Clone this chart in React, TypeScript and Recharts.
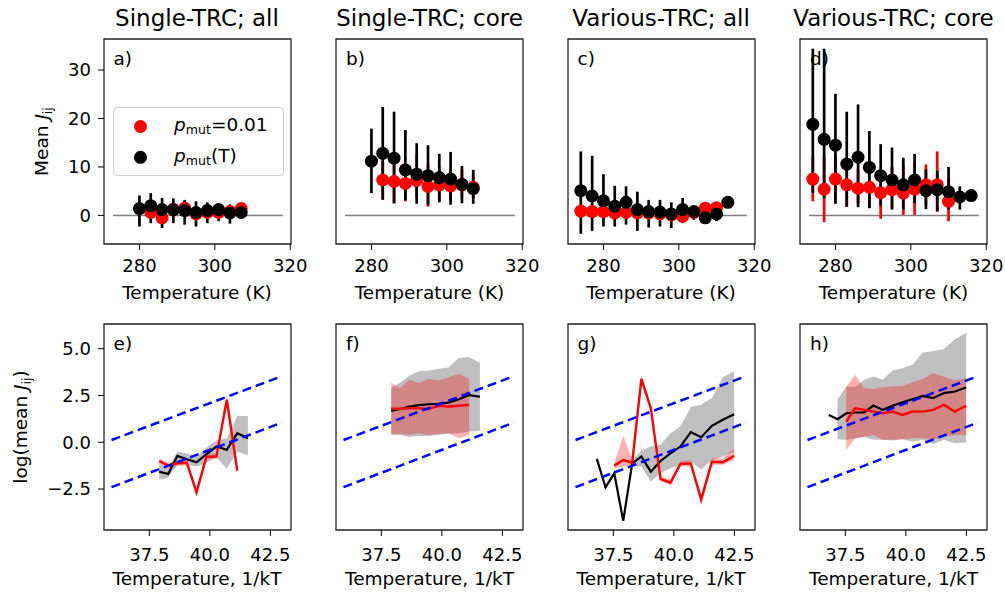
import React from 'react';
import {
  ComposedChart,
  Line,
  Area,
  Scatter,
  ErrorBar,
  XAxis,
  YAxis,
  ReferenceArea
} from 'recharts';

const FONT = 'DejaVu Sans';

// temperatures of the top row (K), 1/kT of the bottom row (ascending)
const TEMPS = [274, 277, 280, 283, 286, 289, 292, 295, 298, 301, 304, 307, 310, 313, 316];
const INV_KT = [36.82, 37.18, 37.54, 37.91, 38.28, 38.66, 39.05, 39.45, 39.86, 40.27, 40.7, 41.13, 41.57, 42.02, 42.49];

const TITLES = ['Single-TRC; all', 'Single-TRC; core', 'Various-TRC; all', 'Various-TRC; core'];
const TOP_LETTERS = ['a)', 'b)', 'c)', 'd)'];
const BOTTOM_LETTERS = ['e)', 'f)', 'g)', 'h)'];

const TOP_X_TICKS = [280, 300, 320];
const TOP_Y_TICKS = [0, 10, 20, 30];
const BOT_X_TICKS = [37.5, 40, 42.5];
const BOT_Y_TICKS = [-2.5, 0, 2.5, 5];

const ZERO_X = [273, 318];
const GUIDE_X = [35.94, 42.97];
const GUIDE_UPPER = [0.12, 3.53];
const GUIDE_LOWER = [-2.4, 1.05];

// ---- top row: mean J_ij with error bars (start = index into TEMPS)
const aRedMean = [0.6, -0.5, 1.2, 1.5, 0.3, 0.6, 0.6, 0.8, 1.4];
const aRedLo = [-0.3, -1.4, 0.3, 0.6, -0.6, -0.3, -0.3, -0.1, 0.5];
const aRedHi = [1.5, 0.4, 2.1, 2.4, 1.2, 1.5, 1.5, 1.7, 2.3];
const aBlackMean = [1.4, 2.0, 1.2, 1.2, 1.0, 0.6, 1.0, 1.2, 0.5, 0.6];
const aBlackLo = [-2.3, -1.6, -2.6, -1.6, -1.9, -2.3, -1.6, -1.2, -1.7, -0.5];
const aBlackHi = [4.1, 4.6, 3.6, 3.5, 3.2, 2.9, 2.7, 2.2, 2.3, 1.8];

const bRedMean = [7.3, 7.0, 6.6, 7.2, 6.0, 6.3, 6.1, 6.3, 5.8];
const bRedLo = [3.4, 2.5, 2.9, 3.5, 1.8, 3.0, 3.0, 3.5, 3.5];
const bRedHi = [11.0, 11.5, 10.5, 12.8, 10.5, 10.0, 9.5, 9.5, 8.5];
const bBlackMean = [11.2, 12.8, 11.8, 9.4, 8.5, 8.2, 7.8, 7.5, 6.4, 5.5];
const bBlackLo = [4.6, 3.2, 2.5, 3.1, 2.4, 2.2, 2.7, 2.2, 2.5, 2.4];
const bBlackHi = [17.9, 22.4, 21.4, 17.6, 14.9, 14.5, 12.7, 13.1, 10.2, 9.4];

const cRedMean = [0.9, 0.8, 0.8, 0.5, 0.6, 0.5, 0.5, 0.3, 0.1, -0.2, 0.6, 1.5, 1.6];
const cRedLo = [-0.3, -0.4, -0.5, -0.7, -0.6, -0.7, -0.6, -0.8, -1.0, -1.2, -0.4, 0.5, 0.6];
const cRedHi = [2.1, 2.0, 2.0, 1.7, 1.8, 1.7, 1.6, 1.4, 1.2, 0.9, 1.6, 2.5, 2.6];
const cBlackMean = [5.1, 4.0, 3.0, 1.9, 2.7, 1.2, 0.8, 0.7, 0.3, 1.2, 0.8, -0.5, 0.3, 2.7];
const cBlackLo = [-3.8, -3.2, -2.3, -2.3, -1.9, -3.2, -2.5, -2.3, -2.6, -1.6, -0.9, -1.6, -1.2, 2.7];
const cBlackHi = [13.2, 12.3, 8.5, 6.1, 6.0, 4.9, 3.2, 3.2, 2.7, 3.6, 1.8, 1.2, 1.2, 2.7];

const dRedMean = [7.5, 5.4, 7.5, 6.3, 5.6, 5.8, 4.7, 5.3, 4.6, 5.4, 6.3, 6.3, 2.9];
const dRedLo = [2.9, -1.4, 2.5, 1.8, 2.5, 1.5, -0.7, 1.5, 0.1, 0.1, 2.0, 0.8, -1.2];
const dRedHi = [12.1, 12.0, 12.5, 10.5, 9.5, 10.0, 9.0, 10.0, 10.5, 11.1, 10.5, 13.2, 7.7];
const dBlackMean = [18.8, 15.7, 14.5, 10.6, 12.0, 9.9, 8.2, 7.3, 6.3, 7.3, 5.1, 5.3, 4.9, 3.8, 4.1];
const dBlackLo = [4.6, 3.5, 2.4, 1.8, 1.7, 1.5, 2.0, 1.2, 1.2, 2.5, 1.3, 0.8, 1.2, 1.2, 4.1];
const dBlackHi = [34.4, 34.4, 25.1, 21.4, 22.9, 17.4, 14.7, 14.0, 11.9, 12.7, 9.5, 9.2, 10.0, 6.0, 4.1];

// ---- bottom row: log(mean J_ij) with bands (start = index into INV_KT)
const eRedMean = [-1.0, -1.25, -1.12, -1.09, -2.68, -0.77, -0.77, 2.27, -1.52];
const eRedLo = [-1.2, -1.4, -1.27, -1.25, -2.85, -0.9, -0.9, 2.0, -1.6];
const eRedHi = [-0.85, -1.1, -0.97, -0.95, -2.5, -0.62, -0.62, 2.5, -1.42];
const eBlackMean = [-1.57, -1.7, -0.73, -0.91, -1.07, -0.64, -0.23, -0.41, 0.48, 0.21];
const eBlackLo = [-2.0, -1.9, -1.2, -1.2, -1.3, -1.1, -0.8, -1.4, -0.5, -0.7];
const eBlackHi = [-1.2, -1.4, -0.5, -0.6, -0.75, -0.3, 0.1, 0.2, 1.4, 1.4];

const fRedMean = [1.79, 1.79, 1.82, 1.82, 1.77, 1.95, 1.91, 1.95, 2.0];
const fRedLo = [0.45, 0.45, 0.39, 0.48, 0.39, 0.45, 0.48, 0.21, 0.39];
const fRedHi = [3.16, 2.9, 3.34, 3.16, 3.38, 3.3, 3.48, 3.66, 3.38];
const fBlackMean = [1.68, 1.78, 1.9, 1.98, 2.03, 2.05, 2.12, 2.3, 2.52, 2.43];
const fBlackLo = [0.39, 0.39, 0.3, 0.34, 0.34, 0.39, 0.45, 0.48, 0.57, 0.6];
const fBlackHi = [2.9, 3.2, 3.55, 3.8, 3.82, 3.93, 4.0, 4.5, 4.55, 4.23];

const gRedMean = [-1.25, -0.95, -1.09, 3.39, 1.82, -1.96, -2.16, -1.16, -1.13, -3.05, -1.04, -1.07, -0.73];
const gRedLo = [-1.4, -1.3, -1.25, 3.2, 1.6, -2.1, -2.3, -1.3, -1.3, -3.4, -1.2, -1.2, -0.95];
const gRedHi = [-1.1, 0.34, -0.9, 3.6, 2.0, -1.8, -2.0, -1.0, -0.95, -2.85, -0.85, -0.85, -0.32];
const gBlackMean = [-0.89, -2.41, -1.66, -4.2, -1.13, -0.77, -1.57, -1.0, -0.59, -0.23, 0.54, 0.27, 0.88, 1.2, 1.5];
const gBlackLo = [-1.3, -1.3, -2.1, -1.66, -1.39, -1.2, -1.04, -1.45, -0.95, -0.77, -0.5];
const gBlackHi = [-0.95, -0.45, -0.23, -0.14, 0.48, 0.84, 1.88, 2.0, 2.36, 3.48, 3.79];

const hRedMean = [1.11, 1.82, 1.73, 1.64, 1.55, 1.64, 1.46, 1.64, 1.64, 1.73, 2.0, 1.64, 1.95];
const hRedLo = [-0.41, 0.21, 0.3, 0.39, 0.13, 0.13, 0.16, 0.21, 0.21, 0.13, 0.3, 0.39, 0.39];
const hRedHi = [2.95, 3.6, 2.9, 2.85, 2.95, 2.98, 3.0, 3.2, 3.38, 3.7, 3.52, 3.3, 3.43];
const hBlackMean = [1.46, 1.23, 1.55, 1.59, 1.59, 1.96, 1.73, 1.95, 2.13, 2.3, 2.48, 2.36, 2.63, 2.71, 2.93];
const hBlackLo = [0.16, 0.13, 0.2, 0.3, 0.13, 0.13, 0.1, 0.16, 0.04, 0.13, -0.09, 0.13, -0.05, -0.02];
const hBlackHi = [2.3, 2.98, 2.95, 3.34, 3.52, 3.34, 3.84, 3.96, 4.14, 4.8, 4.86, 4.98, 5.5, 5.84];

type Pt = { x: number; y?: number; err?: number[]; band?: number[] };

const errPoints = (start: number, mean: number[], lo: number[], hi: number[]): Pt[] =>
  mean.map((m, i) => ({ x: TEMPS[start + i], y: m, err: [m - lo[i], hi[i] - m] }));
const linePoints = (start: number, mean: number[]): Pt[] =>
  mean.map((m, i) => ({ x: INV_KT[start + i], y: m }));
const bandPoints = (start: number, lo: number[], hi: number[]): Pt[] =>
  lo.map((l, i) => ({ x: INV_KT[start + i], band: [l, hi[i]] }));

const TOP = [
  { red: errPoints(3, aRedMean, aRedLo, aRedHi), black: errPoints(2, aBlackMean, aBlackLo, aBlackHi) },
  { red: errPoints(3, bRedMean, bRedLo, bRedHi), black: errPoints(2, bBlackMean, bBlackLo, bBlackHi) },
  { red: errPoints(0, cRedMean, cRedLo, cRedHi), black: errPoints(0, cBlackMean, cBlackLo, cBlackHi) },
  { red: errPoints(0, dRedMean, dRedLo, dRedHi), black: errPoints(0, dBlackMean, dBlackLo, dBlackHi) }
];

const BOTTOM = [
  {
    red: linePoints(3, eRedMean), redBand: bandPoints(3, eRedLo, eRedHi),
    black: linePoints(3, eBlackMean), blackBand: bandPoints(3, eBlackLo, eBlackHi)
  },
  {
    red: linePoints(3, fRedMean), redBand: bandPoints(3, fRedLo, fRedHi),
    black: linePoints(3, fBlackMean), blackBand: bandPoints(3, fBlackLo, fBlackHi)
  },
  {
    red: linePoints(2, gRedMean), redBand: bandPoints(2, gRedLo, gRedHi),
    black: linePoints(0, gBlackMean), blackBand: bandPoints(4, gBlackLo, gBlackHi)
  },
  {
    red: linePoints(2, hRedMean), redBand: bandPoints(2, hRedLo, hRedHi),
    black: linePoints(0, hBlackMean), blackBand: bandPoints(1, hBlackLo, hBlackHi)
  }
];

const zeroLine = ZERO_X.map((x) => ({ x, y: 0 }));
const upperGuide = GUIDE_X.map((x, i) => ({ x, y: GUIDE_UPPER[i] }));
const lowerGuide = GUIDE_X.map((x, i) => ({ x, y: GUIDE_LOWER[i] }));

// layout
const COL_LEFT = [103.5, 336, 567.5, 800];
const PLOT_W = 187;
const TOP_Y = 39;
const TOP_H = 205;
const BOT_Y = 324;
const BOT_H = 206;
const PAD_L = 70;
const PAD_T = 10;
const PAD_R = 40;
const PAD_B = 70;

const TOP_XDOM: [number, number] = [270.6, 320.2];
const TOP_YDOM: [number, number] = [-5.9, 36.4];
const BOT_XDOM: [number, number] = [35.63, 43.35];
const BOT_YDOM: [number, number] = [-4.69, 6.32];

const tickStyle = { fill: '#000', fontSize: 18, fontFamily: FONT };
const fmt1 = (v: number) => (v < 0 ? '\u2212' : '') + Math.abs(v).toFixed(1);

const dot = (color: string) => (p: any) => <circle cx={p.cx} cy={p.cy} r={6.5} fill={color} />;

const TopPanel = ({ i }: { i: number }) => (
  <div style={{ position: 'absolute', left: COL_LEFT[i] - PAD_L, top: TOP_Y - PAD_T }}>
    <ComposedChart
      width={PAD_L + PLOT_W + PAD_R}
      height={PAD_T + TOP_H + PAD_B}
      margin={{ top: PAD_T, right: PAD_R, left: 0, bottom: 0 }}
    >
      <XAxis
        type="number"
        dataKey="x"
        domain={TOP_XDOM}
        ticks={TOP_X_TICKS}
        interval={0}
        allowDataOverflow
        height={PAD_B}
        axisLine={false}
        stroke="#000"
        tickSize={6}
        tickMargin={9}
        tick={tickStyle}
      />
      <YAxis
        type="number"
        dataKey="y"
        domain={TOP_YDOM}
        ticks={TOP_Y_TICKS}
        interval={0}
        allowDataOverflow
        width={PAD_L}
        axisLine={false}
        stroke="#000"
        tickSize={6}
        tickMargin={7}
        tick={i === 0 ? tickStyle : false}
      />
      <Line data={zeroLine} dataKey="y" stroke="#808080" strokeWidth={1.5} dot={false} isAnimationActive={false} />
      <Scatter data={TOP[i].red} shape={dot('#ff0000')} isAnimationActive={false}>
        <ErrorBar dataKey="err" direction="y" width={0} stroke="#ff0000" strokeWidth={2.7} />
      </Scatter>
      <Scatter data={TOP[i].black} shape={dot('#000000')} isAnimationActive={false}>
        <ErrorBar dataKey="err" direction="y" width={0} stroke="#000000" strokeWidth={2.7} />
      </Scatter>
      <ReferenceArea x1={TOP_XDOM[0]} x2={TOP_XDOM[1]} y1={TOP_YDOM[0]} y2={TOP_YDOM[1]} fill="none" stroke="#222" strokeWidth={1.3} />
    </ComposedChart>
  </div>
);

const BottomPanel = ({ i }: { i: number }) => (
  <div style={{ position: 'absolute', left: COL_LEFT[i] - PAD_L, top: BOT_Y - PAD_T }}>
    <ComposedChart
      width={PAD_L + PLOT_W + PAD_R}
      height={PAD_T + BOT_H + PAD_B}
      margin={{ top: PAD_T, right: PAD_R, left: 0, bottom: 0 }}
    >
      <XAxis
        type="number"
        dataKey="x"
        domain={BOT_XDOM}
        ticks={BOT_X_TICKS}
        interval={0}
        allowDataOverflow
        height={PAD_B}
        axisLine={false}
        stroke="#000"
        tickSize={6}
        tickMargin={12}
        tickFormatter={fmt1}
        tick={tickStyle}
      />
      <YAxis
        type="number"
        dataKey="y"
        domain={BOT_YDOM}
        ticks={BOT_Y_TICKS}
        interval={0}
        allowDataOverflow
        width={PAD_L}
        axisLine={false}
        stroke="#000"
        tickSize={6}
        tickMargin={7}
        tickFormatter={fmt1}
        tick={i === 0 ? tickStyle : false}
      />
      <Area data={BOTTOM[i].blackBand} dataKey="band" type="linear" stroke="none" fill="#808080" fillOpacity={0.5} isAnimationActive={false} />
      <Line data={BOTTOM[i].black} dataKey="y" stroke="#000" strokeWidth={2.2} dot={false} isAnimationActive={false} />
      <Area data={BOTTOM[i].redBand} dataKey="band" type="linear" stroke="none" fill="#ff0000" fillOpacity={0.3} isAnimationActive={false} />
      <Line data={BOTTOM[i].red} dataKey="y" stroke="#ff0000" strokeWidth={2.4} dot={false} isAnimationActive={false} />
      <Line data={upperGuide} dataKey="y" stroke="#0000ff" strokeWidth={2.5} strokeDasharray="9 5" dot={false} isAnimationActive={false} />
      <Line data={lowerGuide} dataKey="y" stroke="#0000ff" strokeWidth={2.5} strokeDasharray="9 5" dot={false} isAnimationActive={false} />
      <ReferenceArea x1={BOT_XDOM[0]} x2={BOT_XDOM[1]} y1={BOT_YDOM[0]} y2={BOT_YDOM[1]} fill="none" stroke="#222" strokeWidth={1.3} />
    </ComposedChart>
  </div>
);

const SUB = 12.6;

const Labels = () => (
  <svg width={1005} height={594} style={{ position: 'absolute', left: 0, top: 0 }} fontFamily={FONT}>
    {TITLES.map((t, i) => (
      <text key={t} x={COL_LEFT[i] + PLOT_W / 2} y={26} textAnchor="middle" fontSize={23}>{t}</text>
    ))}
    {TOP_LETTERS.map((t, i) => (
      <text key={t} x={COL_LEFT[i] + 10} y={TOP_Y + 26} fontSize={18.5}>{t}</text>
    ))}
    {BOTTOM_LETTERS.map((t, i) => (
      <text key={t} x={COL_LEFT[i] + 10} y={BOT_Y + 26} fontSize={18.5}>{t}</text>
    ))}
    {COL_LEFT.map((l, i) => (
      <text key={'tx' + i} x={l + PLOT_W / 2} y={TOP_Y + TOP_H + 55} textAnchor="middle" fontSize={18.5}>Temperature (K)</text>
    ))}
    {COL_LEFT.map((l, i) => (
      <text key={'bx' + i} x={l + PLOT_W / 2} y={BOT_Y + BOT_H + 55} textAnchor="middle" fontSize={18.5}>Temperature, 1/kT</text>
    ))}
    <text transform={`translate(48, ${TOP_Y + TOP_H / 2}) rotate(-90)`} textAnchor="middle" fontSize={18.5}>
      Mean <tspan fontStyle="italic">J</tspan>
      <tspan fontSize={SUB} dy={4}>ij</tspan>
    </text>
    <text transform={`translate(27, ${BOT_Y + BOT_H / 2}) rotate(-90)`} textAnchor="middle" fontSize={18.5}>
      log(mean <tspan fontStyle="italic">J</tspan>
      <tspan fontSize={SUB} dy={4}>ij</tspan>
      <tspan dy={-4}>)</tspan>
    </text>
  </svg>
);

const LegendBox = () => (
  <svg width={1005} height={594} style={{ position: 'absolute', left: 0, top: 0 }} fontFamily={FONT}>
    <rect x={113.5} y={107.5} width={170} height={68} rx={4} fill="#fff" fillOpacity={0.8} stroke="#ccc" strokeWidth={1} />
    <circle cx={140.5} cy={126.5} r={6.5} fill="#ff0000" />
    <circle cx={140.5} cy={157.3} r={6.5} fill="#000" />
    <text x={174} y={131} fontSize={18.5}>
      <tspan fontStyle="italic">p</tspan>
      <tspan fontSize={SUB} dy={2.7}>mut</tspan>
      <tspan dy={-2.7}>=0.01</tspan>
    </text>
    <text x={174} y={162} fontSize={18.5}>
      <tspan fontStyle="italic">p</tspan>
      <tspan fontSize={SUB} dy={2.7}>mut</tspan>
      <tspan dy={-2.7}>(T)</tspan>
    </text>
  </svg>
);

export default function App() {
  return (
    <div style={{ position: 'absolute', left: 0, top: 0, width: 1005, height: 594, background: '#fff', fontFamily: FONT }}>
      <Labels />
      {[0, 1, 2, 3].map((i) => (
        <TopPanel key={'t' + i} i={i} />
      ))}
      {[0, 1, 2, 3].map((i) => (
        <BottomPanel key={'b' + i} i={i} />
      ))}
      <LegendBox />
    </div>
  );
}
